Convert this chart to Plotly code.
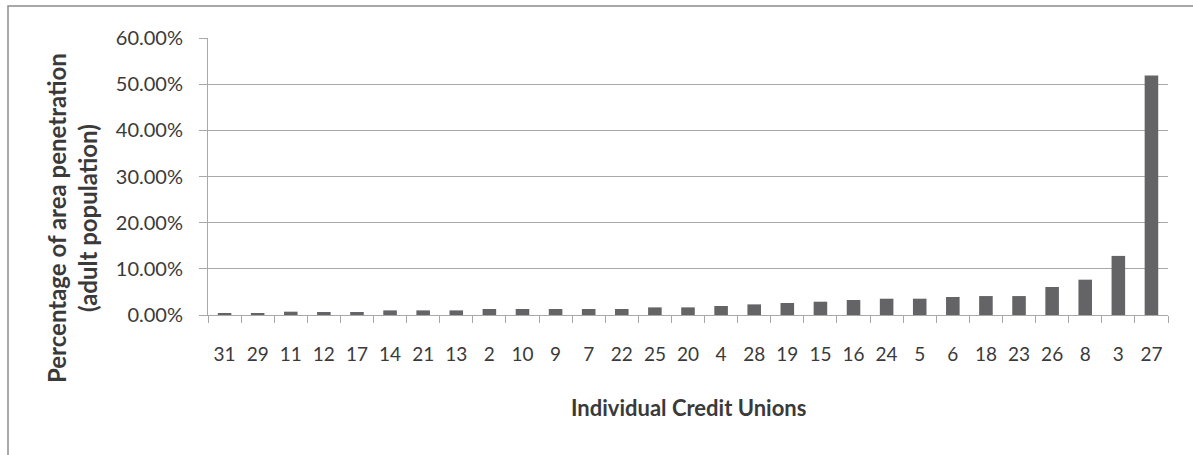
import plotly.graph_objects as go

credit_unions = ["31", "29", "11", "12", "17", "14", "21", "13", "2", "10", "9", "7", "22", "25",
                 "20", "4", "28", "19", "15", "16", "24", "5", "6", "18", "23", "26", "8", "3", "27"]
penetration = [0.0043, 0.0037, 0.0072, 0.0065, 0.0065, 0.0100, 0.0100, 0.0100, 0.0130, 0.0130,
               0.0130, 0.0130, 0.0130, 0.0165, 0.0165, 0.0195, 0.0230, 0.0260, 0.0288, 0.0325,
               0.0353, 0.0353, 0.0390, 0.0410, 0.0410, 0.0606, 0.0765, 0.1280, 0.5190]
y_ticks = [0, 0.1, 0.2, 0.3, 0.4, 0.5, 0.6]

FONT = "Lato"
TXT = "#3a3a3a"
GRID = "#a8a8a8"

fig = go.Figure(go.Bar(x=credit_unions, y=penetration, marker=dict(color="#646466", line=dict(width=0))))

L, R, T, B = 208, 25, 38, 140
W, H = 1193, 455
pw, ph = W - L - R, H - T - B

fig.update_layout(
    width=W, height=H,
    margin=dict(l=L, r=R, t=T, b=B),
    paper_bgcolor="white", plot_bgcolor="white",
    bargap=0.59,
    showlegend=False,
    font=dict(family=FONT, size=19, color=TXT),
    xaxis=dict(type="category", showline=True, linecolor=GRID, linewidth=1,
               ticks="outside", ticklen=7, tickcolor=GRID, tickson="boundaries",
               showgrid=False, tickfont=dict(size=19, color=TXT), ticklabelstandoff=22),
    yaxis=dict(range=[0, 0.6], tickvals=y_ticks, tickformat=".2%", showline=True,
               linecolor=GRID, linewidth=1, ticks="outside", ticklen=8, tickcolor=GRID,
               showgrid=True, gridcolor=GRID, gridwidth=1, zeroline=False,
               tickfont=dict(size=20, color=TXT), ticklabelstandoff=12),
)

fig.add_annotation(text="<b>Individual Credit Unions</b>", xref="paper", yref="paper",
                   x=0.5, y=-(408 - (H - B)) / ph, xanchor="center", yanchor="middle",
                   showarrow=False, font=dict(size=22, color=TXT, family=FONT))
fig.add_annotation(text="<b>Percentage of area penetration<br>(adult population)</b>",
                   xref="paper", yref="paper", x=(72 - L) / pw, y=((H - B) - 218) / ph,
                   xanchor="center", yanchor="middle", textangle=-90, showarrow=False,
                   font=dict(size=24, color=TXT, family=FONT))

# outer chart frame (top and left edges visible)
fig.add_shape(type="rect", xref="paper", yref="paper",
              x0=(8 - L) / pw, x1=(W + 10 - L) / pw,
              y0=-(H + 10 - (H - B)) / ph, y1=1 + (T - 6) / ph,
              line=dict(color="#8c8c8c", width=1.5), layer="below")

fig.write_html("out.html", config={"displayModeBar": False},
               post_script="document.body.style.margin='0';document.body.style.overflow='hidden';")
